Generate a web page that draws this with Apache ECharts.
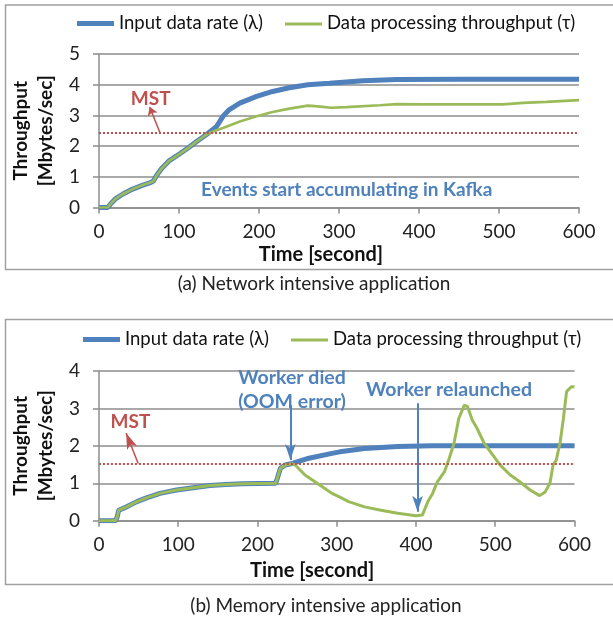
<!DOCTYPE html>
<html>
<head>
	<meta charset="utf-8">
	<title>throughput</title>
	<script src="https://cdn.jsdelivr.net/npm/echarts@6/dist/echarts.min.js"></script>
	<style type="text/css">
		html, body { margin: 0; padding: 0; background: #fff; }
		#chart { width: 613px; height: 620px; }
	</style>
</head>
<body>
	<div id="chart"></div>
	<script type="text/javascript">
	// (a) network intensive: [time, Mbytes/sec]
	var inputA = [[0,0],[11,0],[14,0.1],[20,0.27],[30,0.44],[42,0.6],[55,0.73],[65,0.82],[68,0.86],[72,1.04],[78,1.26],[88,1.53],[101,1.75],[113,1.97],[122,2.15],[134,2.37],[147,2.64],[155,2.97],[163,3.19],[176,3.4],[197,3.62],[217,3.78],[238,3.9],[261,4.0],[288,4.05],[330,4.13],[372,4.17],[455,4.18],[600,4.18]];
	var throughputA = [[0,0],[11,0],[14,0.1],[20,0.27],[30,0.44],[42,0.6],[55,0.73],[65,0.82],[68,0.86],[72,1.04],[78,1.26],[88,1.53],[101,1.75],[113,1.97],[122,2.15],[134,2.37],[141,2.46],[155,2.59],[176,2.8],[197,2.97],[217,3.11],[238,3.22],[261,3.32],[270,3.3],[280,3.28],[290,3.25],[309,3.27],[351,3.33],[372,3.37],[405,3.36],[455,3.36],[505,3.36],[530,3.41],[559,3.44],[600,3.5]];
	// (b) memory intensive
	var inputB = [[0,0],[21,0],[23,0.1],[25,0.28],[35,0.37],[48,0.51],[60,0.61],[77,0.73],[98,0.82],[119,0.88],[140,0.94],[160,0.97],[181,0.99],[223,1.0],[225,1.13],[229,1.4],[235,1.49],[244,1.53],[265,1.67],[294,1.8],[304,1.84],[335,1.93],[377,1.98],[420,2.0],[600,2.0]];
	var throughputB = [[0,0],[21,0],[23,0.1],[25,0.28],[35,0.37],[48,0.51],[60,0.61],[77,0.73],[98,0.82],[119,0.88],[140,0.94],[160,0.97],[181,0.99],[223,1.0],[225,1.13],[229,1.4],[235,1.49],[244,1.52],[247,1.5],[260,1.22],[285,0.86],[294,0.73],[304,0.63],[315,0.51],[335,0.37],[356,0.28],[377,0.2],[400,0.13],[408,0.15],[415,0.51],[421,0.73],[427,1.04],[436,1.31],[442,1.67],[448,2.07],[454,2.73],[461,3.09],[465,3.05],[471,2.69],[477,2.47],[486,2.07],[494,1.84],[506,1.49],[519,1.22],[531,1.04],[544,0.82],[556,0.67],[563,0.77],[569,1.0],[573,1.49],[577,1.62],[582,2.11],[586,2.73],[590,3.45],[596,3.58],[600,3.58]];
	var mstA = 2.45;
	var mstB = 1.53;
	var seriesNames = ['Input data rate (λ)', 'Data processing throughput (τ)'];
	var captions = ['(a) Network intensive application', '(b) Memory intensive application'];

	var BLUE = '#4F81BD', GREEN = '#9BBB59', RED = '#C0504D', GRID = '#8c8c8c';
	var FONT = 'Lato';

	var myChart = echarts.init(document.getElementById('chart'));

	function xAx(gi) {
		return {
			type: 'value', gridIndex: gi, min: 0, max: 600, interval: 100,
			name: 'Time [second]', nameLocation: 'middle', nameGap: gi ? 40 : 37,
			nameTextStyle: { fontFamily: FONT, fontSize: 20, fontWeight: 'bold', color: '#111', padding: [0, gi ? 49 : 36, 0, 0] },
			axisLine: { lineStyle: { color: GRID, width: 1.5 } },
			axisTick: { show: true, length: 6, lineStyle: { color: GRID, width: 1.5 } },
			axisLabel: { fontFamily: FONT, fontSize: 19, color: '#222', margin: 15 },
			splitLine: { show: false }
		};
	}
	function yAx(gi, max) {
		return {
			type: 'value', gridIndex: gi, min: 0, max: max, interval: 1,
			name: 'Throughput\n[Mbytes/sec]', nameLocation: 'middle', nameRotate: 90, nameGap: 38,
			nameTextStyle: { fontFamily: FONT, fontSize: 19, fontWeight: 'bold', color: '#111', lineHeight: 25 },
			axisLine: { show: true, lineStyle: { color: GRID, width: 1.5 } },
			axisTick: { show: true, length: 6, lineStyle: { color: GRID, width: 1.5 } },
			axisLabel: { fontFamily: FONT, fontSize: 19, color: '#222', margin: 19 },
			splitLine: { lineStyle: { color: GRID, width: 1.5 } }
		};
	}
	function legendAt(top, left) {
		return {
			top: top, left: left, padding: 0, itemWidth: 37, itemHeight: 5, itemGap: 22, selectedMode: false,
			textStyle: { fontFamily: FONT, fontSize: 18.5, color: '#111' },
			data: [
				{ name: seriesNames[0], icon: 'path://M0,0H37V5H0Z', itemStyle: { color: BLUE } },
				{ name: seriesNames[1], icon: 'path://M0,0M0,1H37V4H0Z', itemStyle: { color: GREEN } }
			]
		};
	}
	function noteLabel(coord, text, color, size) {
		return {
			coord: coord, symbol: 'circle', symbolSize: 1, itemStyle: { color: 'transparent' },
			label: { show: true, position: 'inside', formatter: text, color: color, fontFamily: FONT, fontSize: size, fontWeight: 'bold', lineHeight: 24 }
		};
	}
	function mstLine(v) {
		return {
			silent: true, symbol: 'none', label: { show: false },
			lineStyle: { color: RED, type: 'dotted', width: 2 },
			data: [{ yAxis: v }]
		};
	}

	var option = {
		animation: false,
		grid: [
			{ left: 99, right: 34, top: 54, height: 153.5 },
			{ left: 95.5, right: 38.5, top: 371, height: 149.7 }
		],
		legend: [legendAt(14, 77), legendAt(330, 83)],
		xAxis: [xAx(0), xAx(1)],
		yAxis: [yAx(0, 5), yAx(1, 4)],
		graphic: [
			{ type: 'rect', shape: { x: 5.5, y: 5, width: 700, height: 264.5 }, style: { fill: 'none', stroke: '#a0a0a0', lineWidth: 1.5 }, silent: true },
			{ type: 'rect', shape: { x: 5.5, y: 319.5, width: 700, height: 265 }, style: { fill: 'none', stroke: '#a0a0a0', lineWidth: 1.5 }, silent: true },
			{ type: 'text', x: 314, y: 284, style: { text: captions[0], fontFamily: FONT, fontSize: 19, fill: '#222', align: 'center', verticalAlign: 'middle' } },
			{ type: 'text', x: 326, y: 606, style: { text: captions[1], fontFamily: FONT, fontSize: 19, fill: '#222', align: 'center', verticalAlign: 'middle' } }
		],
		series: [
			{
				name: seriesNames[0], type: 'line', xAxisIndex: 0, yAxisIndex: 0, data: inputA,
				showSymbol: false, symbol: 'none', lineStyle: { color: BLUE, width: 5 }, itemStyle: { color: BLUE }, z: 2,
				markLine: mstLine(mstA)
			},
			{
				name: seriesNames[1], type: 'line', xAxisIndex: 0, yAxisIndex: 0, data: throughputA,
				showSymbol: false, symbol: 'none', lineStyle: { color: GREEN, width: 2.7 }, itemStyle: { color: GREEN }, z: 3,
				markLine: {
					silent: true, symbol: ['none', 'arrow'], symbolSize: 8, label: { show: false },
					lineStyle: { color: RED, type: 'solid', width: 1.5, curveness: -0.35 },
					data: [[{ coord: [76, 2.45] }, { coord: [63.4, 3.27] }]]
				},
				markPoint: {
					silent: true,
					data: [
						noteLabel([64.6, 3.53], 'MST', RED, 19),
						noteLabel([309.6, 0.56], 'Events start accumulating in Kafka', BLUE, 19)
					]
				}
			},
			{
				name: seriesNames[0], type: 'line', xAxisIndex: 1, yAxisIndex: 1, data: inputB,
				showSymbol: false, symbol: 'none', lineStyle: { color: BLUE, width: 5 }, itemStyle: { color: BLUE }, z: 2,
				markLine: mstLine(mstB)
			},
			{
				name: seriesNames[1], type: 'line', xAxisIndex: 1, yAxisIndex: 1, data: throughputB,
				showSymbol: false, symbol: 'none', lineStyle: { color: GREEN, width: 3 }, itemStyle: { color: GREEN }, z: 3,
				markLine: {
					silent: true, symbol: ['none', 'arrow'], label: { show: false },
					data: [
						[{ coord: [49.5, 1.53], symbolSize: 8, lineStyle: { color: RED, width: 1.5, type: 'solid', curveness: -0.35 } }, { coord: [34.4, 2.34] }],
						[{ coord: [241.5, 3.09], symbolSize: 12, lineStyle: { color: BLUE, width: 2, type: 'solid' } }, { coord: [241.5, 1.62] }],
						[{ coord: [402, 3.14], symbolSize: 12, lineStyle: { color: BLUE, width: 2, type: 'solid' } }, { coord: [402, 0.24] }]
					]
				},
				markPoint: {
					silent: true,
					data: [
						noteLabel([39.7, 2.65], 'MST', RED, 19),
						noteLabel([243.6, 3.49], 'Worker died\n(OOM error)', BLUE, 19.5),
						noteLabel([441.6, 3.49], 'Worker relaunched', BLUE, 19.5)
					]
				}
			}
		]
	};
	myChart.setOption(option);
	</script>
</body>
</html>
